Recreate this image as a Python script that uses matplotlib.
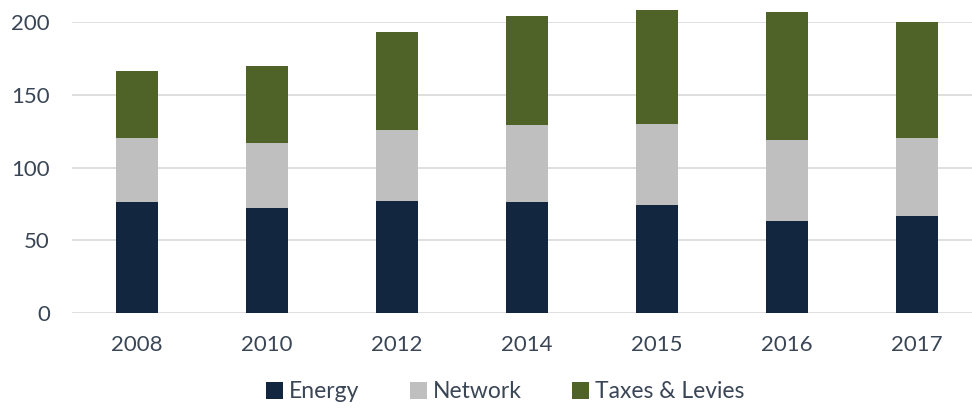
import matplotlib
matplotlib.use("Agg")
import matplotlib.pyplot as plt
from matplotlib.patches import Patch

years = ["2008", "2010", "2012", "2014", "2015", "2016", "2017"]
energy = [76, 72, 77, 76, 74, 63, 67]
network = [44, 45, 49, 53, 56, 56, 53]
taxes = [46, 53, 67, 75, 78, 88, 80]

series_names = ["Energy", "Network", "Taxes & Levies"]
colors = ["#12263f", "#bfbfbf", "#4f6228"]
text_color = "#3a4656"

plt.rcParams['font.family'] = ['Lato', 'DejaVu Sans']

fig = plt.figure(figsize=(9.72, 4.08), dpi=100)
ax = fig.add_axes([72/972, 1 - 313/408, 910/972, (313-22)/408])

x = list(range(len(years)))
bottom = [0]*len(years)
for vals, c in zip([energy, network, taxes], colors):
    bars = ax.bar(x, vals, width=0.32, bottom=bottom, color=c, zorder=3)
    for b in bars:
        b.set_clip_on(False)
    bottom = [b + v for b, v in zip(bottom, vals)]

ax.set_xlim(-0.5, 6.5)
ax.set_ylim(0, 200)
ax.set_yticks([0, 50, 100, 150, 200])
ax.set_xticks(x)
ax.set_xticklabels(years)
ax.yaxis.grid(True, color="#d9d9d9", linewidth=1.2, zorder=0)
ax.set_axisbelow(True)
for s in ax.spines.values():
    s.set_visible(False)
ax.tick_params(axis='both', length=0, labelsize=16, labelcolor=text_color)
ax.tick_params(axis='x', pad=16)
ax.tick_params(axis='y', pad=16)

handles = [Patch(facecolor=c, label=n) for c, n in zip(colors, series_names)]
fig.legend(handles=handles, loc='center', bbox_to_anchor=(505/972, 1 - 392/408),
           ncol=3, frameon=False, fontsize=16.5, labelcolor=text_color,
           handlelength=0.75, handleheight=0.75, handletextpad=0.25, columnspacing=2.2)

fig.savefig("out.png", dpi=100)
